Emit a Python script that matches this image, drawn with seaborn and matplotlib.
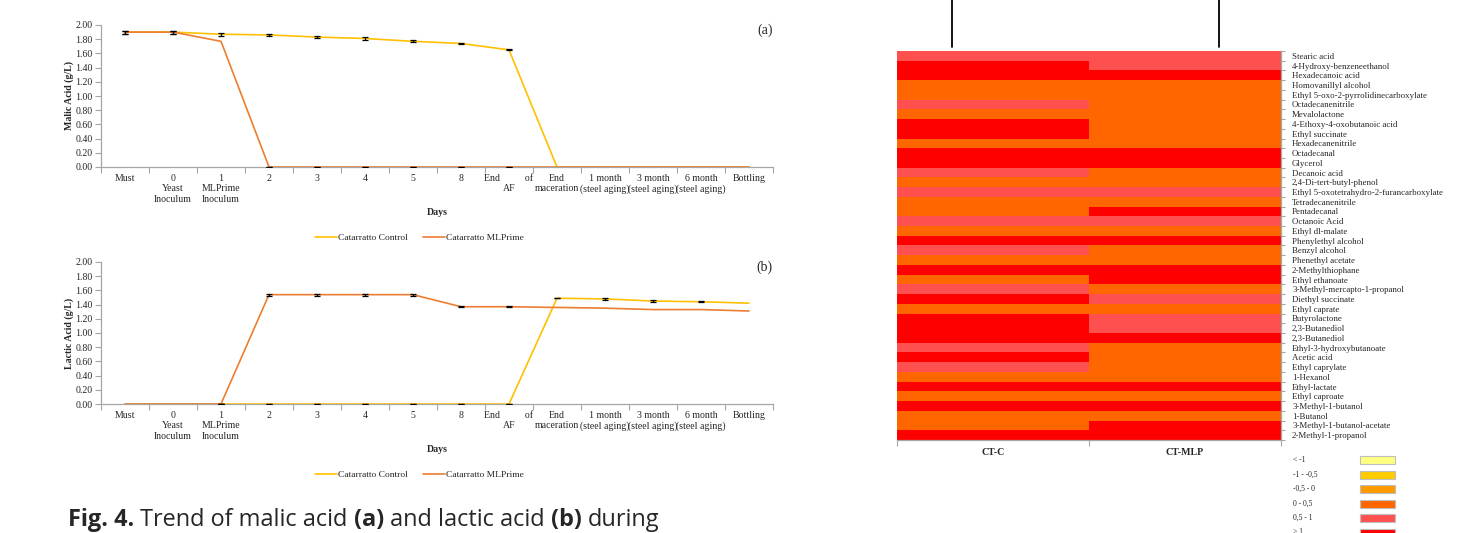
import numpy as np
import pandas as pd
import matplotlib
matplotlib.use("Agg")
import matplotlib.pyplot as plt
import seaborn as sns
from matplotlib.colors import ListedColormap
from matplotlib.patches import Rectangle
from matplotlib.lines import Line2D

# ---------------- data ----------------
stages = ["Must", "0\nYeast\nInoculum", "1\nMLPrime\nInoculum", "2", "3", "4", "5", "8",
          "End          of\nAF", "End\nmaceration", "1 month\n(steel aging)",
          "3 month\n(steel aging)", "6 month\n(steel aging)", "Bottling"]
series_names = ["Catarratto Control", "Catarratto MLPrime"]

malic_control = [1.90, 1.90, 1.87, 1.86, 1.83, 1.81, 1.77, 1.74, 1.65, 0, 0, 0, 0, 0]
malic_control_err = [0.02, 0.02, 0.02, 0.015, 0.015, 0.015, 0.012, 0.012, 0.005,
                     np.nan, np.nan, np.nan, np.nan, np.nan]
malic_mlp = [1.90, 1.90, 1.77, 0, 0, 0, 0, 0, 0, 0, 0, 0, 0, 0]
malic_mlp_err = [0.02, 0.02, np.nan, 0, 0, 0, 0, 0, 0, np.nan, np.nan, np.nan, np.nan, np.nan]

lactic_control = [0, 0, 0, 0, 0, 0, 0, 0, 0, 1.49, 1.48, 1.45, 1.44, 1.42]
lactic_control_err = [np.nan, np.nan, 0, 0, 0, 0, 0, 0, 0, 0, 0.015, 0.008, 0.008, np.nan]
lactic_mlp = [0, 0, 0, 1.54, 1.54, 1.54, 1.54, 1.37, 1.37, 1.36, 1.35, 1.33, 1.33, 1.31]
lactic_mlp_err = [np.nan, np.nan, 0, 0.015, 0.012, 0.012, 0.012, 0.01, 0.01,
                  np.nan, np.nan, np.nan, np.nan, np.nan]

compounds = ["Stearic acid", "4-Hydroxy-benzeneethanol", "Hexadecanoic acid", "Homovanillyl alcohol",
             "Ethyl 5-oxo-2-pyrrolidinecarboxylate", "Octadecanenitrile", "Mevalolactone",
             "4-Ethoxy-4-oxobutanoic acid", "Ethyl succinate", "Hexadecanenitrile", "Octadecanal",
             "Glycerol", "Decanoic acid", "2,4-Di-tert-butyl-phenol",
             "Ethyl 5-oxotetrahydro-2-furancarboxylate", "Tetradecanenitrile", "Pentadecanal",
             "Octanoic Acid", "Ethyl dl-malate", "Phenylethyl alcohol", "Benzyl alcohol",
             "Phenethyl acetate", "2-Methylthiophane", "Ethyl ethanoate",
             "3-Methyl-mercapto-1-propanol", "Diethyl succinate", "Ethyl caprate", "Butyrolactone",
             "2,3-Butanediol", "2,3-Butanediol", "Ethyl-3-hydroxybutanoate", "Acetic acid",
             "Ethyl caprylate", "1-Hexanol", "Ethyl-lactate", "Ethyl caproate", "3-Methyl-1-butanol",
             "1-Butanol", "3-Methyl-1-butanol-acetate", "2-Methyl-1-propanol"]
samples = ["CT-C", "CT-MLP"]
# class index into class_labels (0 = "< -1" ... 5 = "> 1")
ct_c = [4, 5, 5, 3, 3, 4, 3, 5, 5, 3, 5, 5, 4, 3, 4, 3, 3, 4, 3, 5,
        4, 3, 5, 3, 4, 5, 3, 5, 5, 5, 4, 5, 4, 3, 5, 3, 5, 3, 3, 5]
ct_mlp = [4, 4, 5, 3, 3, 3, 3, 3, 3, 3, 5, 5, 3, 3, 4, 3, 5, 4, 3, 5,
          3, 3, 5, 5, 3, 4, 3, 4, 4, 5, 3, 3, 3, 3, 5, 3, 5, 3, 5, 5]
class_labels = ["< -1", "-1 - -0,5", "-0,5 - 0", "0 - 0,5", "0,5 - 1", "> 1"]
class_colors = ["#FFFF80", "#FFCC00", "#FF9900", "#FF6600", "#FF5050", "#FF0000"]

line_colors = ["#FFC000", "#ED7D31"]

# ---------------- style ----------------
sns.set_theme(style="white")
plt.rcParams["font.family"] = ["Liberation Serif", "DejaVu Serif"]

W, H = 1481, 533
fig = plt.figure(figsize=(W / 100, H / 100), dpi=100)
fig.patch.set_facecolor("white")

FS = 7.1


def px_axes(left, top, right, bottom):
    return fig.add_axes([left / W, 1 - bottom / H, (right - left) / W, (bottom - top) / H])


def line_panel(ax, control, control_err, mlp, mlp_err, ylabel, tag):
    pos = np.arange(len(stages))
    df = pd.DataFrame({
        "pos": np.concatenate([pos, pos]),
        "value": np.concatenate([control, mlp]),
        "series": [series_names[0]] * len(pos) + [series_names[1]] * len(pos),
    })
    sns.lineplot(data=df, x="pos", y="value", hue="series", hue_order=series_names,
                 palette=line_colors, ax=ax, legend=False, sort=False, linewidth=1.2)
    for vals, errs in ((control, control_err), (mlp, mlp_err)):
        v = np.asarray(vals, float)
        e = np.asarray(errs, float)
        m = ~np.isnan(e)
        ax.errorbar(pos[m], v[m], yerr=e[m], fmt="none", ecolor="black",
                    elinewidth=0.9, capsize=2.2, capthick=0.9, zorder=5)
    ax.set_xlim(-0.5, len(stages) - 0.5)
    ax.set_ylim(0, 2.0)
    ax.set_yticks(np.arange(0, 2.01, 0.2))
    ax.set_yticklabels([f"{t:.2f}" for t in np.arange(0, 2.01, 0.2)], fontsize=FS)
    ax.set_xticks(pos)
    ax.set_xticklabels(stages, fontsize=FS, linespacing=1.2)
    ax.set_xticks(np.arange(-0.5, len(stages)), minor=True)
    ax.tick_params(axis="x", which="major", length=0, pad=5)
    ax.tick_params(axis="x", which="minor", length=4, color="#A6A6A6", width=0.8, direction="out")
    ax.tick_params(axis="y", length=4, color="#A6A6A6", width=0.8, direction="out", pad=2)
    ax.tick_params(axis="y", which="major", left=True)
    ax.tick_params(axis="x", which="minor", bottom=True)
    for s in ("top", "right"):
        ax.spines[s].set_visible(False)
    for s in ("left", "bottom"):
        ax.spines[s].set_color("#A6A6A6")
        ax.spines[s].set_linewidth(0.9)
    ax.set_xlabel("Days", fontsize=FS, fontweight="bold")
    ax.xaxis.set_label_coords(0.5, -0.292)
    ax.set_ylabel(ylabel, fontsize=FS, fontweight="bold")
    ax.yaxis.set_label_coords(-0.040, 0.5)
    ax.text(0.988, 0.965, tag, transform=ax.transAxes, fontsize=10, ha="center", va="center")
    handles = [Line2D([], [], color=c, lw=1.2) for c in line_colors]
    ax.legend(handles, series_names, loc="center", bbox_to_anchor=(0.474, -0.5), ncol=2,
              frameon=False, fontsize=6.8, handlelength=2.3, handletextpad=0.1,
              columnspacing=1.6)


ax_a = px_axes(101, 25, 773, 167)
line_panel(ax_a, malic_control, malic_control_err, malic_mlp, malic_mlp_err,
           "Malic Acid (g/L)", "(a)")
ax_b = px_axes(101, 262, 773, 404)
line_panel(ax_b, lactic_control, lactic_control_err, lactic_mlp, lactic_mlp_err,
           "Lactic Acid (g/L)", "(b)")

# ---------------- heatmap ----------------
ax_h = px_axes(897, 51, 1281, 440)
hm = pd.DataFrame({samples[0]: ct_c, samples[1]: ct_mlp}, index=compounds)
sns.heatmap(hm, cmap=ListedColormap(class_colors), vmin=-0.5, vmax=5.5, cbar=False,
            ax=ax_h, xticklabels=True, yticklabels=True)
ax_h.yaxis.tick_right()
ax_h.set_yticks(np.arange(len(compounds)) + 0.5)
ax_h.set_yticklabels(compounds, rotation=0, ha="left", fontsize=6.4)
ax_h.set_yticks(np.arange(len(compounds) + 1), minor=True)
ax_h.tick_params(axis="y", which="major", length=0, pad=8, right=True, left=False)
ax_h.tick_params(axis="y", which="minor", length=3, color="#A6A6A6", width=0.8,
                 right=True, left=False, direction="out")
ax_h.set_xticks(np.arange(len(samples)) + 0.5)
ax_h.set_xticklabels(samples, fontsize=FS, fontweight="bold", rotation=0)
ax_h.set_xticks(np.arange(len(samples) + 1), minor=True)
ax_h.tick_params(axis="x", which="major", length=0, pad=6)
ax_h.tick_params(axis="x", which="minor", length=4, color="#A6A6A6", width=0.8,
                 bottom=True, direction="out")
ax_h.set_xlabel("")
ax_h.set_ylabel("")
for s in ("top", "left"):
    ax_h.spines[s].set_visible(False)
for s in ("bottom", "right"):
    ax_h.spines[s].set_visible(True)
    ax_h.spines[s].set_color("#A6A6A6")
    ax_h.spines[s].set_linewidth(0.9)

# dendrogram stubs above the heatmap
for xp in (952, 1219):
    fig.add_artist(Line2D([xp / W, xp / W], [1 - 47 / H, 1.0], color="black", lw=1.3))

# class legend (last row is cut by the page edge, as in the source)
for i, (lab, col) in enumerate(zip(class_labels, class_colors)):
    yc = 460 + i * 14.5
    fig.text(1293 / W, 1 - yc / H, lab, fontsize=5.5, va="center", ha="left")
    fig.add_artist(Rectangle((1360 / W, 1 - (yc + 4) / H), 35 / W, 8 / H,
                             facecolor=col, edgecolor="#BFBFBF", lw=0.8,
                             transform=fig.transFigure))

# ---------------- caption ----------------
parts = [("Fig. 4.", "bold"), ("Trend of malic acid", "normal"), ("(a)", "bold"),
         ("and lactic acid", "normal"), ("(b)", "bold"), ("during", "normal")]
renderer = fig.canvas.get_renderer()
cap_font = ["Open Sans", "DejaVu Sans"]
CFS = 16.9
probe = fig.text(0, 0, "a a", fontsize=CFS, family=cap_font)
probe2 = fig.text(0, 0, "aa", fontsize=CFS, family=cap_font)
space_w = probe.get_window_extent(renderer).width - probe2.get_window_extent(renderer).width
probe.remove()
probe2.remove()
xcur = 68.0
for txt, wt in parts:
    t = fig.text(xcur / W, 1 - 526 / H, txt, fontsize=CFS, fontweight=wt, family=cap_font,
                 va="baseline", ha="left")
    xcur += t.get_window_extent(renderer).width + space_w

fig.savefig("out.png", dpi=100)
